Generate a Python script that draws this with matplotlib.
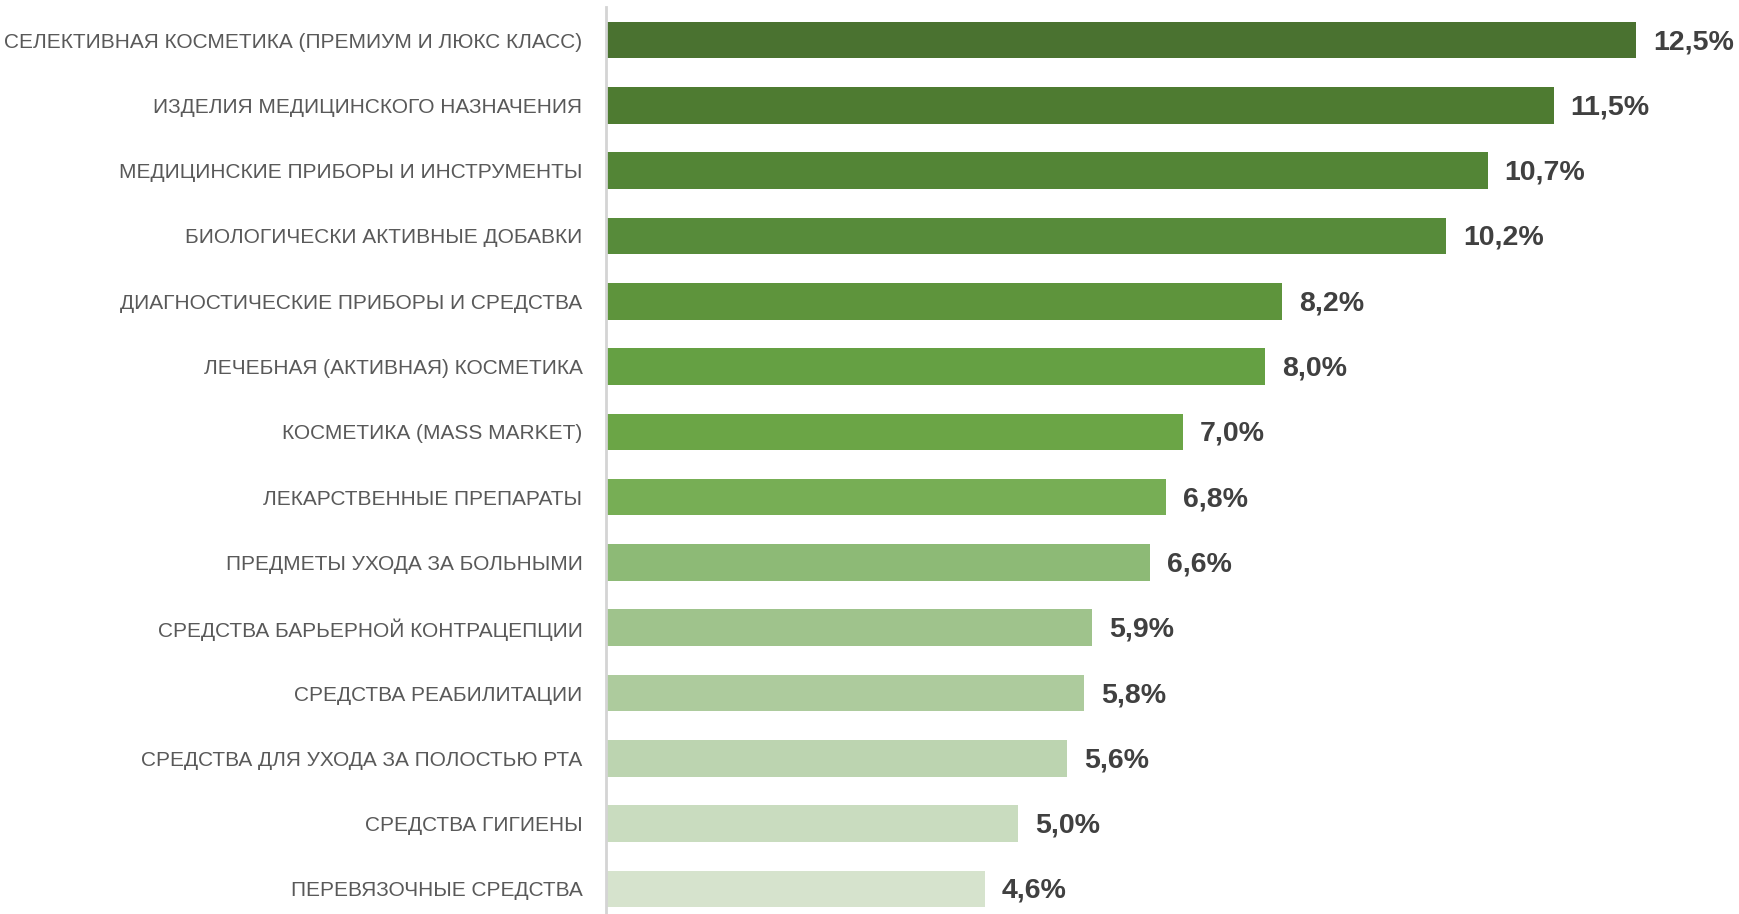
import matplotlib.pyplot as plt
import numpy as np

plt.rcParams['font.family'] = ['Liberation Sans Narrow', 'Liberation Sans', 'DejaVu Sans']

# Категории и доли (сверху вниз)
categories = [
    "СЕЛЕКТИВНАЯ КОСМЕТИКА (ПРЕМИУМ И ЛЮКС КЛАСС)",
    "ИЗДЕЛИЯ МЕДИЦИНСКОГО НАЗНАЧЕНИЯ",
    "МЕДИЦИНСКИЕ ПРИБОРЫ И ИНСТРУМЕНТЫ",
    "БИОЛОГИЧЕСКИ АКТИВНЫЕ ДОБАВКИ",
    "ДИАГНОСТИЧЕСКИЕ ПРИБОРЫ И СРЕДСТВА",
    "ЛЕЧЕБНАЯ (АКТИВНАЯ) КОСМЕТИКА",
    "КОСМЕТИКА (MASS MARKET)",
    "ЛЕКАРСТВЕННЫЕ ПРЕПАРАТЫ",
    "ПРЕДМЕТЫ УХОДА ЗА БОЛЬНЫМИ",
    "СРЕДСТВА БАРЬЕРНОЙ КОНТРАЦЕПЦИИ",
    "СРЕДСТВА РЕАБИЛИТАЦИИ",
    "СРЕДСТВА ДЛЯ УХОДА ЗА ПОЛОСТЬЮ РТА",
    "СРЕДСТВА ГИГИЕНЫ",
    "ПЕРЕВЯЗОЧНЫЕ СРЕДСТВА",
]
values = [12.5, 11.5, 10.7, 10.2, 8.2, 8.0, 7.0, 6.8, 6.6, 5.9, 5.8, 5.6, 5.0, 4.6]

# Оттенки зелёного от тёмного к светлому
colors = [
    "#4a7230", "#4e7b31", "#538536", "#578b3a", "#5e943c", "#65a043", "#6ba546",
    "#77ae55", "#8dba76", "#9fc38c", "#adcb9d", "#bcd4b0", "#c9dcbf", "#d6e3cd",
]

fig = plt.figure(figsize=(17.39, 9.14), dpi=100)
ax = fig.add_axes([0.3485, -0.0083, 0.6515, 1.0002])

y = np.arange(len(categories))
ax.barh(y, values, height=0.56, color=colors, zorder=2)

ax.set_ylim(len(categories) - 0.5, -0.5)
ax.set_xlim(0, 13.75)

ax.set_yticks(y)
ax.set_yticklabels(categories, fontsize=15, color="#595959")
ax.tick_params(axis="y", length=0, pad=17)
ax.set_xticks([])

for side in ("top", "right", "bottom"):
    ax.spines[side].set_visible(False)
ax.spines["left"].set_color("#d4d4d4")
ax.spines["left"].set_linewidth(2)

# Подписи значений справа от столбцов
for yi, v in zip(y, values):
    ax.annotate(f"{v:.1f}%".replace(".", ","), xy=(v, yi), xytext=(17, -2),
                textcoords="offset pixels",
                va="center", ha="left", fontsize=20.5, fontweight="bold",
                color="#404040")

fig.savefig("out.png", dpi=100)
